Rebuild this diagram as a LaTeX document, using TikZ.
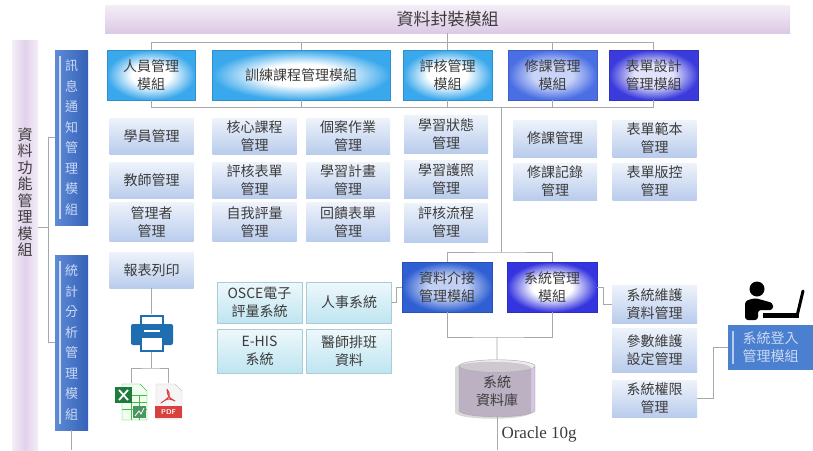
\documentclass[tikz,border=0pt]{standalone}
\usepackage{fontspec}
\setmainfont{Liberation Serif}
\newfontfamily\cjk{Noto Sans CJK TC}
\usetikzlibrary{shapes.geometric,shadows}

\definecolor{linegray}{HTML}{A8A8A8}
\definecolor{txtgray}{HTML}{3C3C3C}
\definecolor{itemtop}{HTML}{EEF3FB}
\definecolor{itembot}{HTML}{B9CCEC}
\definecolor{exttop}{HTML}{EEF8FB}
\definecolor{extbot}{HTML}{BEE5F1}
\definecolor{extedge}{HTML}{A9CCD6}
\definecolor{cyanglow}{HTML}{3AA8EC}
\definecolor{blueglow}{HTML}{4A6EE4}
\definecolor{violetglow}{HTML}{3B3BDD}
\definecolor{deepglow}{HTML}{2F5FD2}
\definecolor{barlight}{HTML}{5E8AD6}
\definecolor{bardark}{HTML}{3562B8}
\definecolor{bartext}{HTML}{C9D9F4}
\definecolor{loginblue}{HTML}{4B7FCF}
\definecolor{lilac}{HTML}{DCC9E6}
\definecolor{lilacpale}{HTML}{F4EEF7}
\definecolor{dbtop}{HTML}{F0EAF3}
\definecolor{dbbody}{HTML}{D5C7DF}
\definecolor{printblue}{HTML}{1F6EB1}
\definecolor{xlgreen}{HTML}{1E7B3C}
\definecolor{pdfred}{HTML}{D9413F}
\colorlet{glowin}{white}
\colorlet{glowout}{cyanglow}

% pale centre that brightens toward the rim of a module box
\pgfdeclareradialshading[glowin,glowout]{glow}{\pgfpoint{0bp}{0bp}}{%
    color(0bp)=(glowin); color(11bp)=(glowin); color(25bp)=(glowout); color(50bp)=(glowout)}

\begin{document}
\begin{tikzpicture}[x=1pt, y=-1pt,
    conn/.style={draw=linegray, line width=0.7pt},
    txt/.style={text=txtgray, align=center, font=\cjk\fontsize{14}{18}\selectfont},
    module/.style 2 args={txt, /utils/exec={\colorlet{glowin}{#1}\colorlet{glowout}{#2}},
        shading=glow, draw=#2!85!black, line width=0.5pt, minimum height=50, inner sep=0pt},
    item/.style={txt, top color=itemtop, bottom color=itembot,
        minimum width=84, minimum height=36, inner sep=0pt},
    extsys/.style={txt, top color=exttop, bottom color=extbot, draw=extedge,
        line width=0.6pt, minimum width=85, minimum height=41, inner sep=0pt},
    bar/.style={left color=barlight, right color=bardark, text=bartext, align=center,
        font=\cjk\fontsize{13}{20.5}\selectfont,
        minimum width=33, minimum height=175, inner sep=0pt}
]
    \useasboundingbox[fill=white] (0,0) rectangle (813,450);

    % banners
    \node[top color=lilacpale, bottom color=lilac, minimum width=685, minimum height=28,
        inner sep=0pt, text=txtgray, font=\cjk\fontsize{17}{20}\selectfont]
        (pack) at (447.5,19) {資料封裝模組};
    \node[left color=lilacpale, right color=lilacpale, middle color=lilac!85,
        minimum width=26, minimum height=410, inner sep=0pt] (funcbar) at (25,245) {};
    \node[text=txtgray, align=center, font=\cjk\fontsize{15}{16.5}\selectfont]
        (functext) at (25,192) {資\\料\\功\\能\\管\\理\\模\\組};

    % modules
    \node[module={white}{cyanglow}, minimum width=88] (m1) at (151,75) {人員管理\\模組};
    \node[module={white}{cyanglow}, minimum width=178] (m2) at (301,75) {訓練課程管理模組};
    \node[module={white}{cyanglow}, minimum width=89] (m3) at (447.5,75) {評核管理\\模組};
    \node[module={blueglow!30}{blueglow}, minimum width=89] (m4) at (552.5,75) {修課管理\\模組};
    \node[module={violetglow!15}{violetglow}, minimum width=89] (m5) at (653.5,75) {表單設計\\管理模組};

    \node[bar] (msg) at (71.5,137.5) {訊\\息\\通\\知\\管\\理\\模\\組};
    \node[bar] (stat) at (71.5,342.5) {統\\計\\分\\析\\管\\理\\模\\組};
    \draw[white!70!barlight, line width=1.5pt]
        ([xshift=5,yshift=-6]msg.north west) -- ([xshift=5,yshift=6]msg.south west);
    \draw[white!70!barlight, line width=1.5pt]
        ([xshift=5,yshift=-6]stat.north west) -- ([xshift=5,yshift=6]stat.south west);

    % items
    \node[item] (r1) at (151.5,136) {學員管理};
    \node[item] (r2) at (151.5,180.5) {教師管理};
    \node[item, minimum height=39] (r3) at (151.5,222) {管理者\\管理};
    \node[item] (r4) at (151.5,270) {報表列印};

    \node[item] (c1) at (254.5,136) {核心課程\\管理};
    \node[item] (c2) at (254.5,180.5) {評核表單\\管理};
    \node[item, minimum height=39] (c3) at (254.5,222) {自我評量\\管理};
    \node[item] (c4) at (348,136) {個案作業\\管理};
    \node[item] (c5) at (348,180.5) {學習計畫\\管理};
    \node[item, minimum height=39] (c6) at (348,222) {回饋表單\\管理};

    \node[item, minimum height=38] (e1) at (446,134) {學習狀態\\管理};
    \node[item, minimum height=38] (e2) at (446,179) {學習護照\\管理};
    \node[item, minimum height=39] (e3) at (446,222.5) {評核流程\\管理};

    \node[item, minimum height=37] (k1) at (555,138.5) {修課管理};
    \node[item, minimum height=37] (k2) at (555,181.5) {修課記錄\\管理};
    \node[item, minimum height=37] (f1) at (654.5,138.5) {表單範本\\管理};
    \node[item, minimum height=37] (f2) at (654.5,181.5) {表單版控\\管理};

    % interface and system blocks
    \node[module={deepglow!30}{deepglow}, minimum width=90] (i1) at (447,287) {資料介接\\管理模組};
    \node[module={white}{violetglow!90!blue}, minimum width=90] (i2) at (552,287) {系統管理\\模組};

    \node[extsys] (o1) at (259.5,302.5) {OSCE電子\\評量系統};
    \node[extsys] (o2) at (349,302.5) {人事系統};
    \node[extsys, minimum height=44] (o3) at (259.5,351) {E-HIS\\系統};
    \node[extsys, minimum height=44] (o4) at (349,351) {醫師排班\\資料};

    \node[item, minimum width=85, minimum height=38] (s1) at (654.5,304) {系統維護\\資料管理};
    \node[item, minimum width=85, minimum height=44] (s2) at (654.5,350) {參數維護\\設定管理};
    \node[item, minimum width=85, minimum height=37] (s3) at (654.5,398.5) {系統權限\\管理};

    \node[fill=loginblue, text=bartext, align=center, font=\cjk\fontsize{14}{18}\selectfont,
        minimum width=85, minimum height=45, inner sep=0pt] (login) at (770.5,347.5) {系統登入\\管理模組};
    \draw[white!60!loginblue, line width=1.5pt]
        ([xshift=5,yshift=-6]login.north west) -- ([xshift=5,yshift=6]login.south west);

    \node[cylinder, shape border rotate=90, aspect=0.3, minimum width=76, minimum height=57,
        draw=gray!70, cylinder uses custom fill, cylinder body fill=dbbody, cylinder end fill=dbtop,
        drop shadow={shadow xshift=-4pt, shadow yshift=-2pt, opacity=0.3},
        txt, inner sep=0pt] (db) at (497,391.5) {系統\\資料庫};
    \node[anchor=west, text=txtgray, font=\fontsize{17}{20}\selectfont] (oracle) at (498,434) {Oracle 10g};

    % printer and export icons
    \draw[printblue, line width=2.2pt, fill=white] (141,316) rectangle (163,328);
    \fill[printblue, rounded corners=2pt] (131,324) rectangle (173,345);
    \draw[white, line width=1.5pt] (144,331) -- (160,331);
    \draw[printblue, line width=2.2pt, fill=white] (141,337) rectangle (163,351);
    \node[minimum width=42, minimum height=37, inner sep=0pt] (printer) at (151.5,333) {};

    \draw[green!45!gray, fill=green!6] (122,384) -- (140,384) -- (147,391) -- (147,420) -- (122,420) -- cycle;
    \foreach \yy in {395,402,409}
        \draw[green!50!gray, line width=0.4pt] (122,\yy) -- (147,\yy);
    \foreach \xx in {131,139}
        \draw[green!50!gray, line width=0.4pt] (\xx,395) -- (\xx,420);
    \fill[xlgreen!80] (133,406) rectangle (146,418);
    \draw[white, line width=0.8pt] (135,416) -- (139,411) -- (141,414) -- (144,408);
    \fill[xlgreen] (115,387) rectangle (132,403);
    \draw[white, line width=1.8pt] (119,390) -- (128,400) (128,390) -- (119,400);
    \node[minimum width=32, minimum height=37, inner sep=0pt] (xls) at (131,401.5) {};

    \draw[gray!45, fill=gray!8] (156,384) -- (175,384) -- (182,391) -- (182,419) -- (156,419) -- cycle;
    \draw[pdfred, line width=1pt, line join=round]
        (167,389) .. controls (171,396) .. (161,403) .. controls (168,398) .. (175,401)
        .. controls (168,397) .. (167,389);
    \fill[pdfred] (155,406) rectangle (182,418);
    \node[text=white, font=\sffamily\bfseries\fontsize{7}{7}\selectfont] (pdftext) at (168.5,412) {PDF};
    \node[minimum width=27, minimum height=37, inner sep=0pt] (pdf) at (168,401.5) {};

    % user at a laptop
    \fill (757,289) circle (7.5);
    \fill[rounded corners=3pt] (745,320) -- (745,301) -- (755,298) -- (773,303) -- (773,310)
        -- (758,310) -- (758,320) -- cycle;
    \fill (763,313) rectangle (799,318);
    \draw[line width=3pt, line cap=round] (797,316) -- (803,291);

    % connectors
    \coordinate (topbus) at (0,42);
    \coordinate (botbus) at (0,107);
    \draw[conn] (pack.south) -- (pack.south |- topbus);
    \draw[conn] (m1.north |- topbus) -- (m5.north |- topbus);
    \draw[conn] (m1.south |- botbus) -- (m5.south |- botbus);
    \foreach \m in {m1,m2,m3,m4,m5} {
        \draw[conn] (\m.north) -- (\m.north |- topbus);
        \draw[conn] (\m.south) -- (\m.south |- botbus);
    }

    \coordinate (drop) at (501,107);
    \coordinate (ibus) at (501,252);
    \coordinate (dbus) at (497,337);
    \draw[conn] (drop) -- (ibus);
    \draw[conn] (i1.north) |- (ibus) -| (i2.north);
    \draw[conn] (i1.south) |- (dbus) -| (i2.south);
    \draw[conn] (dbus) -- (db.north);
    \coordinate (dbend) at (497,450);
    \draw[conn] (db.south) -- (dbend);

    \draw[conn] (o2.east) -- ++(5,0) |- (i1.west);
    \draw[conn] (i2.east) -- ++(6,0) |- (s1.west);
    \draw[conn] (s3.east) -- ++(16,0) |- (login.west);

    \coordinate (lj) at (48,227);
    \draw[conn] (funcbar.east |- lj) -- (lj);
    \draw[conn] (msg.west) -- (msg.west -| lj) -- (stat.west -| lj) -- (stat.west);
    \coordinate (statend) at (71.5,450);
    \draw[conn] (stat.south) -- (statend);

    \draw[conn] (r4.south) -- (printer.north);
    \coordinate (pj) at (151.5,368);
    \draw[conn] (printer.south) -- (pj);
    \draw[conn] (xls.north) |- (pj) -| (pdf.north);
\end{tikzpicture}
\end{document}
